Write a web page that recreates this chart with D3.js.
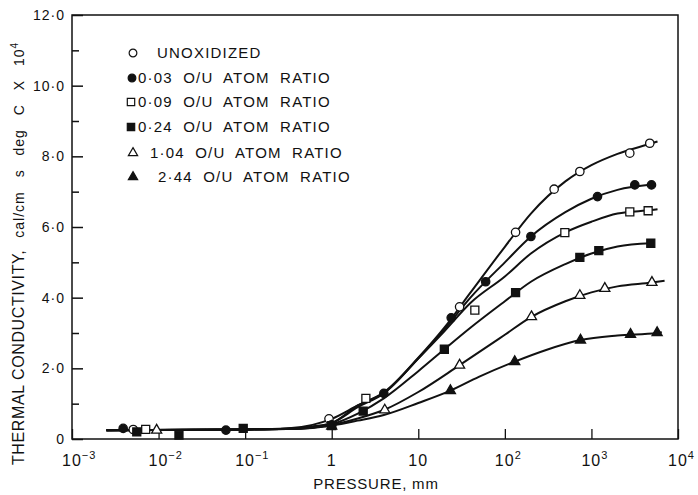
<!DOCTYPE html>
<html><head><meta charset="utf-8">
<script src="https://cdn.jsdelivr.net/npm/d3@7"></script>
<style>
body{margin:0;background:#fff}
svg{display:block}
text{font-family:"Liberation Sans",Arial,sans-serif;fill:#111}
</style>
</head><body>
<svg id="chart" width="698" height="495"></svg>
<script>
// ---- data (pressure in mm, conductivity in cal/cm s deg C x 10^4) ----
const legendLabels = ["UNOXIDIZED","0·03 O/U ATOM RATIO","0·09 O/U ATOM RATIO","0·24 O/U ATOM RATIO","1·04 O/U ATOM RATIO","2·44 O/U ATOM RATIO"];
const markerKinds = ["circle-open","circle-filled","square-open","square-filled","triangle-open","triangle-filled"];

// measured points
const unoxP = [0.0051,0.93,30,133,371,735,2775,4720];
const unoxV = [0.27,0.57,3.74,5.85,7.07,7.57,8.09,8.37];
const r003P = [0.0039,0.06,1,4,24,60,200,1175,3170,4940];
const r003V = [0.30,0.25,0.40,1.29,3.43,4.45,5.73,6.86,7.19,7.19];
const r009P = [0.0071,2.48,45,493,2775,4520];
const r009V = [0.27,1.15,3.65,5.84,6.43,6.46];
const r024P = [0.0056,0.0172,0.095,1,2.31,20,133,735,1217,4850];
const r024V = [0.20,0.11,0.30,0.38,0.79,2.54,4.14,5.14,5.33,5.54];
const r104P = [0.0095,4.1,30,203,735,1428,5000];
const r104V = [0.25,0.82,2.09,3.46,4.06,4.26,4.43];
const r244P = [1,23.5,130,748,2830,5740];
const r244V = [0.36,1.37,2.19,2.80,2.96,3.01];

// drawn (faired) curves
const unoxCurveP = [0.0025,0.1,0.3,0.6,1,2,4,10,20,40,100,200,500,1000,2000,5000,5800];
const unoxCurveV = [0.25,0.27,0.30,0.40,0.57,0.95,1.32,2.30,3.15,4.14,5.44,6.38,7.29,7.75,8.07,8.37,8.42];
const r003CurveP = [0.0025,0.1,0.3,0.6,1,2,4,10,20,40,100,200,500,1000,2000,5000];
const r003CurveV = [0.25,0.27,0.29,0.35,0.45,0.90,1.29,2.28,3.10,4.00,5.00,5.73,6.42,6.80,7.05,7.20];
const r009CurveP = [0.0025,0.1,0.3,0.6,1,2,4,10,20,40,100,200,500,1000,2000,5000,5800];
const r009CurveV = [0.25,0.27,0.29,0.35,0.45,0.95,1.30,2.28,3.05,3.85,4.60,5.25,5.85,6.15,6.38,6.48,6.50];
const r024CurveP = [0.0025,0.1,0.3,0.6,1,2,4,10,20,40,100,200,500,1000,2000,4850];
const r024CurveV = [0.25,0.27,0.29,0.33,0.42,0.72,1.15,1.92,2.54,3.15,3.90,4.45,4.95,5.25,5.45,5.54];
const r104CurveP = [0.0025,0.1,0.3,0.6,1,2,4,10,30,100,200,500,1000,2000,5000,7000];
const r104CurveV = [0.25,0.27,0.28,0.32,0.40,0.58,0.82,1.33,2.09,2.95,3.45,3.90,4.15,4.32,4.43,4.48];
const r244CurveP = [0.0025,0.1,0.3,0.6,1,2,4,10,23.5,50,130,300,750,2000,5700,6500];
const r244CurveV = [0.25,0.27,0.28,0.31,0.38,0.52,0.68,1.02,1.37,1.76,2.19,2.52,2.80,2.93,3.00,3.02];

const xTickValues = [1e-3,1e-2,1e-1,1,10,1e2,1e3,1e4];
const xTickBase = ["10","10","10","1","10","10","10","10"];
const xTickExp = ["−3","−2","−1","","","2","3","4"];
const yTickValues = [0,1,2,3,4,5,6,7,8,9,10,11,12];
const yLabelValues = [0,2,4,6,8,10,12];
const xTitle = "PRESSURE, mm";
const yTitleMain = "THERMAL CONDUCTIVITY,";
const yTitleUnit = "cal/cm s deg C X 10";
const yTitleExp = "4";

// ---- build ----
const pointsP = [unoxP,r003P,r009P,r024P,r104P,r244P];
const pointsV = [unoxV,r003V,r009V,r024V,r104V,r244V];
const curvesP = [unoxCurveP,r003CurveP,r009CurveP,r024CurveP,r104CurveP,r244CurveP];
const curvesV = [unoxCurveV,r003CurveV,r009CurveV,r024CurveV,r104CurveV,r244CurveV];

const svg = d3.select("#chart");
const L = 72, R = 678, T = 15, B = 439;
const x = d3.scaleLog().domain([1e-3,1e4]).range([L,R]);
const y = d3.scaleLinear().domain([0,12]).range([B,T]);

function symbolFor(kind, scale){
  const s = scale||1;
  if (kind.startsWith("circle")) return d3.symbol().type(d3.symbolCircle).size(55*s)();
  if (kind.startsWith("square")) return d3.symbol().type(d3.symbolSquare).size(64*s)();
  return d3.symbol().type(d3.symbolTriangle).size(44*s)();
}

// frame
svg.append("rect").attr("x",L).attr("y",T).attr("width",R-L).attr("height",B-T)
  .attr("fill","none").attr("stroke","#111").attr("stroke-width",1.5);

// y axis ticks (inward)
const yAxis = d3.axisLeft(y).tickValues(yTickValues).tickSize(0).tickFormat("");
const gy = svg.append("g").attr("transform",`translate(${L},0)`).call(yAxis);
gy.select(".domain").remove();
gy.selectAll(".tick line").attr("x2", d => d%2===0 ? 11 : 7).attr("stroke","#111").attr("stroke-width",1.5);
svg.append("g").selectAll("text").data(yLabelValues).join("text")
  .attr("x",65).attr("y",d=>y(d)).attr("dy","0.36em").attr("text-anchor","end")
  .attr("font-size",14).attr("letter-spacing",1)
  .text(d => d===0 ? "0" : d.toFixed(1).replace(".","·"));

// x axis ticks (inward)
const xAxis = d3.axisBottom(x).tickValues(xTickValues).tickSize(0).tickFormat("");
const gx = svg.append("g").attr("transform",`translate(0,${B})`).call(xAxis);
gx.select(".domain").remove();
gx.selectAll(".tick line").attr("y2",-10).attr("stroke","#111").attr("stroke-width",1.3);
const xl = svg.append("g").selectAll("text").data(xTickValues).join("text")
  .attr("y",466).attr("font-size",16).attr("letter-spacing",1);
xl.each(function(d,i){
  const t = d3.select(this);
  const base = xTickBase[i], ex = xTickExp[i];
  const bw = base === "1" ? 10 : 20;
  t.attr("x", x(d) - bw/2);
  t.append("tspan").text(base);
  if (ex) t.append("tspan").attr("font-size",11).attr("dy",-7).text(ex);
});

// titles
svg.append("text").attr("x",376).attr("y",489).attr("text-anchor","middle")
  .attr("font-size",15).attr("letter-spacing",0.8).text(xTitle);
const yt = svg.append("text").attr("transform","translate(24,465) rotate(-90)")
  .attr("text-anchor","start");
yt.append("tspan").attr("font-size",16).attr("letter-spacing",0.6).text(yTitleMain);
yt.append("tspan").attr("font-size",14).attr("dx",12).attr("word-spacing",9).attr("letter-spacing",1).text(yTitleUnit);
yt.append("tspan").attr("font-size",10).attr("dy",-6).text(yTitleExp);

// curves
const line = d3.line().x(d=>x(d[0])).y(d=>y(d[1])).curve(d3.curveMonotoneX);
curvesP.forEach((ps,i)=>{
  const pts = ps.map((p,j)=>[p,curvesV[i][j]]);
  svg.append("path").attr("d",line(pts)).attr("fill","none")
    .attr("stroke","#111").attr("stroke-width",2);
});

// points
pointsP.forEach((ps,i)=>{
  const kind = markerKinds[i];
  const open = kind.endsWith("open");
  svg.append("g").selectAll("path").data(ps.map((p,j)=>[p,pointsV[i][j]])).join("path")
    .attr("transform",d=>`translate(${x(d[0])},${y(d[1])})`)
    .attr("d",symbolFor(kind))
    .attr("fill",open?"#fff":"#111").attr("stroke","#111").attr("stroke-width",1.3);
});

// legend
const legY = [53,78,102,127,153,177];
const legMX = [133,132,131,131,133,133];
const legTX = [157,138,138,138,150,158];
legendLabels.forEach((lab,i)=>{
  const kind = markerKinds[i];
  const open = kind.endsWith("open");
  svg.append("path").attr("transform",`translate(${legMX[i]},${legY[i]})`)
    .attr("d",symbolFor(kind,0.85))
    .attr("fill",open?"#fff":"#111").attr("stroke","#111").attr("stroke-width",1.2);
  svg.append("text").attr("x",legTX[i]).attr("y",legY[i]).attr("dy","0.36em")
    .attr("font-size",15).attr("letter-spacing",1.2).attr("word-spacing",5).text(lab);
});
</script>
</body></html>
